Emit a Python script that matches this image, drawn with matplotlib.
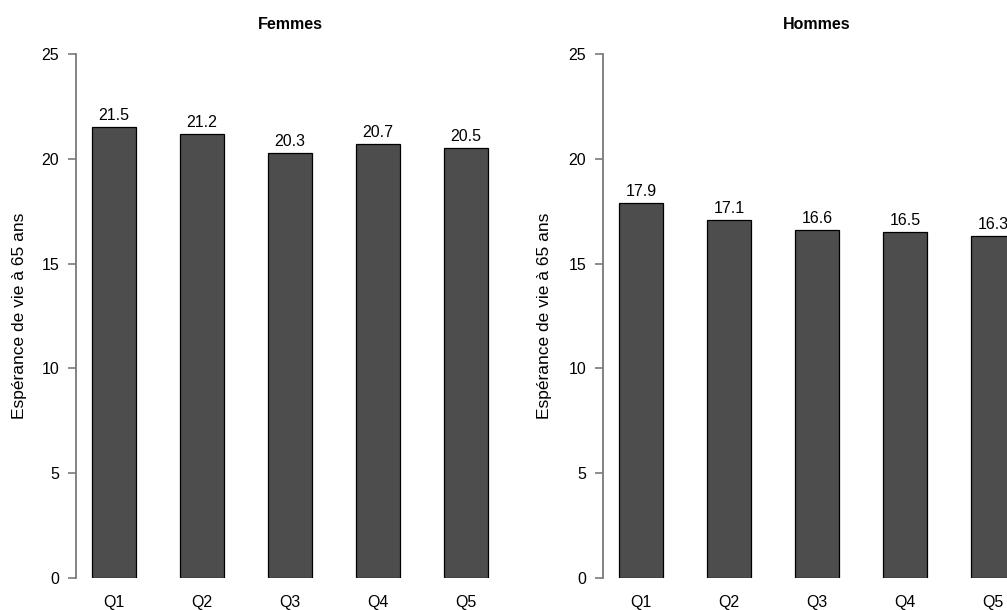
import matplotlib
matplotlib.use("Agg")
import matplotlib.pyplot as plt

plt.rcParams['font.family'] = ['Liberation Sans', 'DejaVu Sans']

# espérance de vie à 65 ans par quintile
quintiles = ['Q1', 'Q2', 'Q3', 'Q4', 'Q5']
femmes = [21.5, 21.2, 20.3, 20.7, 20.5]
hommes = [17.9, 17.1, 16.6, 16.5, 16.3]
yticks = [0, 5, 10, 15, 20, 25]

W, H = 1007, 610
fig = plt.figure(figsize=(W / 100, H / 100), dpi=100)
fig.patch.set_facecolor('white')

axis_grey = '#7a7a7a'
bar_fill = '#4d4d4d'
fs = 11.5


def panel(left_px, values, title, ylab_x):
    # zone de tracé : 428 px de large, 0..25 sur 524 px
    ax = fig.add_axes([left_px / W, 32 / H, 428 / W, 524 / H])
    x = list(range(len(values)))
    ax.bar(x, values, width=0.5, color=bar_fill, edgecolor='black', linewidth=0.9)
    ax.set_xlim(-0.432, 4.432)
    ax.set_ylim(0, 25)

    for s in ['top', 'right', 'bottom']:
        ax.spines[s].set_visible(False)
    ax.spines['left'].set_color(axis_grey)
    ax.spines['left'].set_linewidth(1.3)

    ax.set_yticks(yticks)
    ax.tick_params(axis='y', direction='out', length=6, width=1.2,
                   color=axis_grey, labelsize=fs, pad=6)
    ax.set_xticks(x)
    ax.set_xticklabels(quintiles)
    ax.tick_params(axis='x', length=0, labelsize=fs, pad=12)

    for xi, v in zip(x, values):
        ax.annotate(f'{v:.1f}', (xi, v), xytext=(0, 5), textcoords='offset points',
                    ha='center', va='baseline', fontsize=fs, annotation_clip=False)

    ax.set_ylabel('Espérance de vie à 65 ans', fontsize=12.5)
    ax.yaxis.set_label_coords(ylab_x, 0.5)
    ax.text(0.5, 1.056, title, transform=ax.transAxes, ha='center', va='center',
            fontsize=fs, fontweight='bold')
    return ax


panel(76, femmes, 'Femmes', -0.1145)
panel(603, hommes, 'Hommes', -0.119)

fig.savefig('out.png', dpi=100)
